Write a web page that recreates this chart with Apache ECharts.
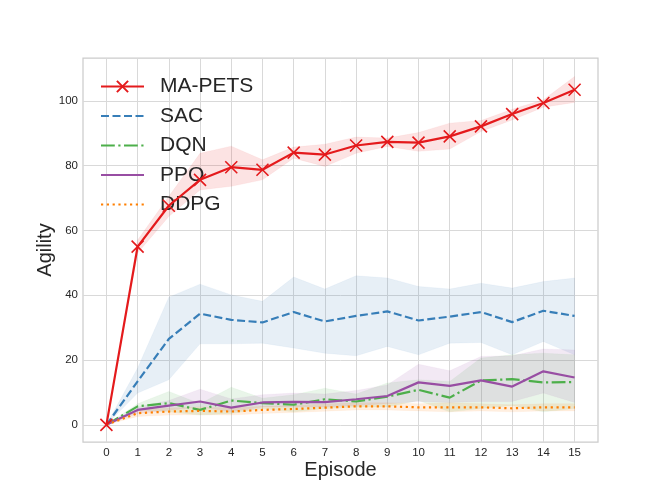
<!DOCTYPE html>
<html>
<head>
<meta charset="utf-8">
<script src="https://cdn.jsdelivr.net/npm/echarts@6.0.0/dist/echarts.min.js"></script>
<style>
    html, body { margin: 0; padding: 0; background: #fff; }
    #chart { width: 664px; height: 498px; }
</style>
</head>
<body>
<div id="chart"></div>
<script>
// episodes on the x axis
var episodes = [0, 1, 2, 3, 4, 5, 6, 7, 8, 9, 10, 11, 12, 13, 14, 15];
var yTicks = [0, 20, 40, 60, 80, 100];

// mean curves + shaded band (low / high)
var maPets     = [0, 55, 67.6, 75.6, 79.5, 78.7, 84, 83.4, 86.2, 87.3, 87.1, 89, 92.1, 95.9, 99.3, 103.4];
var maPetsLow  = [0, 53, 64.3, 72.5, 73.6, 75.6, 82.3, 79.7, 83.8, 85.9, 84.4, 85.1, 90.5, 94.1, 98, 99.5];
var maPetsHigh = [0, 57, 70.5, 83.8, 86, 81.8, 85.7, 86.6, 88.8, 88.5, 90.2, 93.1, 93.9, 97.4, 100.3, 107.5];

var sac     = [0, 13.4, 26.5, 34.3, 32.4, 31.6, 34.8, 31.9, 33.6, 35, 32.2, 33.4, 34.8, 31.7, 35.2, 33.6];
var sacLow  = [0, 9.8, 13.9, 25, 25, 25.2, 23.7, 22.1, 21.3, 24.2, 21.6, 25.2, 25.4, 21.6, 25.7, 21.6];
var sacHigh = [0, 17.5, 39.4, 43.4, 40.1, 38.1, 45.6, 41.9, 46, 45.3, 42.7, 41.9, 43.7, 42.2, 44.2, 45.3];

var dqn     = [0, 5.7, 6.7, 4.6, 7.5, 6.7, 6.2, 7.9, 7.2, 8.7, 10.8, 8.4, 13.7, 14.1, 13.1, 13.2];
var dqnLow  = [0, 4.5, 4, 3, 3.5, 5, 4, 5, 5.5, 5.5, 7.5, 4, 5, 6, 4, 5];
var dqnHigh = [0, 6.5, 10.3, 6.5, 11.6, 8.2, 9.3, 11.3, 9.5, 12.9, 13.9, 13.4, 20.6, 21.6, 22.1, 21.6];

var ppo     = [0, 4.6, 5.9, 7.2, 5.3, 6.9, 7.1, 7.0, 7.9, 8.9, 13.1, 12.0, 13.7, 11.8, 16.5, 14.6];
var ppoLow  = [0, 3.5, 4.5, 5.5, 4, 5.5, 5.5, 5.5, 6, 6.5, 7.2, 6.9, 7.2, 7.2, 9.8, 6.9];
var ppoHigh = [0, 5.5, 7.5, 11, 8, 9.3, 9.8, 9.5, 10.6, 12.3, 18.7, 16.7, 21.1, 21.3, 23.4, 23.1];

var ddpg     = [0, 3.6, 4.1, 4.3, 4.1, 4.6, 4.9, 5.3, 5.7, 5.7, 5.4, 5.4, 5.4, 5.1, 5.4, 5.4];
var ddpgLow  = [0, 2.6, 3.0, 3.1, 3.0, 3.5, 3.8, 4.2, 4.6, 4.6, 4.3, 4.0, 4.3, 4.0, 4.3, 4.3];
var ddpgHigh = [0, 4.6, 5.2, 5.5, 5.2, 5.7, 6.0, 6.4, 6.8, 6.8, 6.5, 6.8, 6.5, 6.2, 6.5, 6.5];

var FONT = 'Liberation Sans, Arial, sans-serif';

function pairs(vals) {
    return episodes.map(function (x, i) { return [x, vals[i]]; });
}

// shaded band as one polygon, points mapped through the axes
function band(key, low, high, color) {
    return {
        name: key, type: 'custom', coordinateSystem: 'cartesian2d', silent: true, z: 1,
        data: episodes.map(function (x, i) { return [x, low[i], high[i]]; }),
        encode: { x: 0, y: [1, 2] },
        renderItem: function (params, api) {
            if (params.dataIndex !== 0) return null;
            var n = episodes.length, top = [], bot = [];
            for (var i = 0; i < n; i++) {
                top.push(api.coord([api.value(0, i), api.value(2, i)]));
                bot.unshift(api.coord([api.value(0, i), api.value(1, i)]));
            }
            return {
                type: 'polygon',
                shape: { points: top.concat(bot) },
                style: { fill: color, opacity: 0.12, stroke: color, lineWidth: 0.8, strokeOpacity: 0.5 }
            };
        }
    };
}

function curve(name, vals, color, dash, z) {
    return {
        name: name, type: 'line', data: pairs(vals), z: z,
        symbol: 'circle', showSymbol: false,
        itemStyle: { color: color, opacity: 0 },
        lineStyle: { color: color, width: 2.2, type: dash }
    };
}

var chart = echarts.init(document.getElementById('chart'));

var series = [
    band('b_ma', maPetsLow, maPetsHigh, '#e41a1c'),
    band('b_sac', sacLow, sacHigh, '#377eb8'),
    band('b_dqn', dqnLow, dqnHigh, '#4daf4a'),
    band('b_ppo', ppoLow, ppoHigh, '#984ea3'),
    band('b_ddpg', ddpgLow, ddpgHigh, '#ff7f00')
];

var maLine = curve('MA-PETS', maPets, '#e41a1c', 'solid', 10);
maLine.symbol = 'path://M0,0L10,10M10,0L0,10';
maLine.showSymbol = true;
maLine.symbolSize = 12;
maLine.itemStyle = { color: '#e41a1c', borderColor: '#e41a1c', borderWidth: 1.6 };

series.push(
    maLine,
    curve('SAC', sac, '#377eb8', [8, 3.5], 6),
    curve('DQN', dqn, '#4daf4a', [13.8, 3.5, 2.2, 3.5], 7),
    curve('PPO', ppo, '#984ea3', 'solid', 8),
    curve('DDPG', ddpg, '#ff7f00', [2.2, 3.6], 9)
);

chart.setOption({
    animation: false,
    backgroundColor: '#fff',
    grid: {
        left: 83, right: 66, top: 58, bottom: 56,
        show: true, borderColor: '#cccccc', borderWidth: 1.25,
        backgroundColor: 'transparent'
    },
    legend: {
        data: ['MA-PETS', 'SAC', 'DQN', 'PPO', 'DDPG'],
        orient: 'vertical',
        left: 95, top: 71,
        itemWidth: 43, itemHeight: 14, itemGap: 8.5,
        textStyle: { fontFamily: FONT, fontSize: 21, color: '#262626', padding: [0, 0, 0, 11] }
    },
    xAxis: {
        type: 'value', min: -0.75, max: 15.75,
        name: 'Episode', nameLocation: 'middle', nameGap: 18, nameMoveOverlap: false,
        nameTextStyle: { fontFamily: FONT, fontSize: 20, color: '#262626' },
        axisLine: { show: false },
        axisTick: { show: false, customValues: episodes },
        axisLabel: { customValues: episodes, fontFamily: FONT, fontSize: 11.5, color: '#262626', margin: 5 },
        splitLine: { show: true, lineStyle: { color: '#d9d9d9', width: 1 } }
    },
    yAxis: {
        type: 'value', min: -5.3, max: 113.2,
        name: 'Agility', nameLocation: 'middle', nameGap: 28, nameMoveOverlap: false,
        nameTextStyle: { fontFamily: FONT, fontSize: 20, color: '#262626' },
        axisLine: { show: false },
        axisTick: { show: false, customValues: yTicks },
        axisLabel: { customValues: yTicks, fontFamily: FONT, fontSize: 11.5, color: '#262626', margin: 5 },
        splitLine: { show: true, lineStyle: { color: '#d9d9d9', width: 1 } }
    },
    series: series
});
</script>
</body>
</html>
